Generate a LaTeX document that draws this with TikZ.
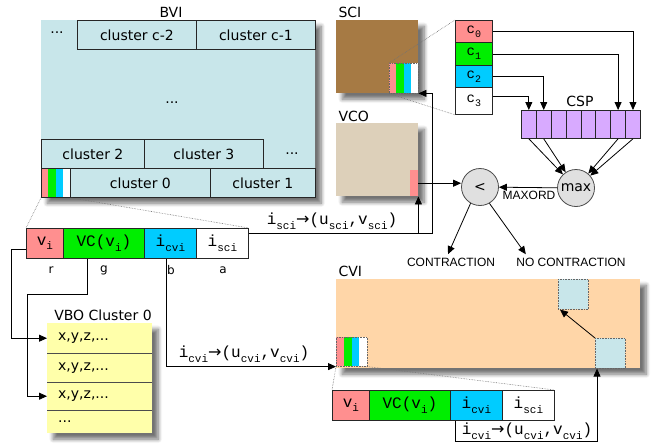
\documentclass[tikz,border=0pt]{standalone}
\usepackage{fontspec}
\setsansfont{DejaVu Sans}
\setmonofont{Liberation Mono}
\newfontfamily\capsfont{Liberation Sans}
\newfontfamily\arrfont{DejaVu Sans}
\usepackage{tikz}
\usetikzlibrary{arrows.meta,positioning,shadows,shadows.blur,calc}
\definecolor{bviblue}{HTML}{C8E6EA}
\definecolor{scibrown}{HTML}{A67A44}
\definecolor{vcotan}{HTML}{DDD0BA}
\definecolor{cvipeach}{HTML}{FFD6A8}
\definecolor{vboyellow}{HTML}{FFFFAA}
\definecolor{cspurple}{HTML}{D8AAFF}
\definecolor{chred}{HTML}{FF8F8F}
\definecolor{chgreen}{HTML}{00EE00}
\definecolor{chblue}{HTML}{00CCFF}
\definecolor{opgray}{HTML}{E0E0E0}
\newcommand{\fsz}[1]{\fontsize{#1}{#1}\selectfont}
% monospaced name with a low subscript
\newcommand{\ttsb}[3][11]{\texttt{#2\raisebox{-0.55ex}{\fsz{#1}#3}}}

\begin{document}
\begin{tikzpicture}[x=1pt, y=-1pt, font=\sffamily\fsz{14}, >={Triangle[length=8pt,width=7pt]},
  panel/.style={inner sep=0pt, anchor=north west, blur shadow={shadow xshift=6pt, shadow yshift=-6pt, shadow blur radius=4pt, shadow blur steps=8, shadow opacity=55}},
  clbox/.style={draw=black!85, line width=0.8pt, fill=bviblue, inner sep=0pt, anchor=north west, minimum height=29pt},
  rcell/.style={draw=black!85, line width=0.8pt, inner sep=0pt, anchor=north west, minimum height=30pt, font=\ttfamily\fsz{16}},
  ccell/.style={draw=black!85, line width=0.8pt, inner sep=0pt, anchor=north west, minimum width=37pt, font=\ttfamily\fsz{14}},
  chip/.style={draw=black!60, densely dotted, line width=0.6pt, inner sep=0pt, anchor=north west},
  cspcell/.style={draw=black!85, line width=0.8pt, fill=cspurple, inner sep=0pt, anchor=north west, minimum width=14.875pt, minimum height=28pt},
  opnode/.style={circle, draw=black!70, line width=0.8pt, fill=opgray, minimum size=37pt, inner sep=0pt},
  vborow/.style={inner xsep=11pt, inner ysep=0pt, anchor=north west, text width=83pt, align=left},
  arr/.style={->, line width=0.8pt},
  zoomline/.style={densely dotted, black!55, line width=0.6pt},
  code/.style={font=\ttfamily\fsz{16}},
  tag/.style={font=\sffamily\fsz{12}},
  caps/.style={font=\capsfont\fsz{12}}]
\useasboundingbox (0,0) rectangle (656,445);
% BVI
\node (bvilbl) at (171,12) {BVI};
\node[panel, fill=bviblue, minimum width=274pt, minimum height=177pt] (bvi) at (41,20) {};
\node (bvidots1) at (57,33) {...};
\node[clbox, minimum width=119pt] (clcm2) at (77,20) {cluster c-2};
\node[clbox, minimum width=119pt] (clcm1) at (196,20) {cluster c-1};
\node (bvidots2) at (172,103) {...};
\node[clbox, minimum width=103pt] (cl2) at (41,139) {cluster 2};
\node[clbox, minimum width=119pt] (cl3) at (144,139) {cluster 3};
\node (bvidots3) at (292,154) {...};
\node[clbox, minimum width=140pt] (cl0) at (70,168) {cluster 0};
\node[clbox, minimum width=105pt] (cl1) at (210,168) {cluster 1};
\foreach \c [count=\k from 0] in {chred,chgreen,chblue,white}
  \fill[\c] (41+\k*7.25,168) rectangle ++(7.25,29);
\node[chip, draw=black!85, solid, line width=0.8pt, minimum width=29pt, minimum height=29pt] (bvichip) at (41,168) {};
% vertex record
\node[rcell, fill=chred, minimum width=37pt] (r1v) at (26,228) {\ttsb{v}{i}};
\node[rcell, fill=chgreen, minimum width=81pt] (r1vc) at (63,228) {VC(\ttsb{v}{i})};
\node[rcell, fill=chblue, minimum width=52pt] (r1cvi) at (144,228) {\ttsb{i}{cvi}};
\node[rcell, fill=white, minimum width=52pt] (r1sci) at (196,228) {\ttsb{i}{sci}};
\foreach \t/\x in {r/51, g/104, b/171, a/223}
  \node[tag] (chan\t) at (\x,270) {\t};
\draw[zoomline] (bvichip.south west) -- (r1v.north west);
\draw[zoomline] (bvichip.south east) -- (r1sci.north east);
% SCI
\node[anchor=west] (scilbl) at (335,12) {SCI};
\node[panel, fill=scibrown, minimum width=82pt, minimum height=73pt] (sci) at (336,20) {};
\foreach \c [count=\k from 0] in {chred,chgreen,chblue,white}
  \fill[\c] (389+\k*7.25,63) rectangle ++(7.25,30);
\node[chip, minimum width=29pt, minimum height=30pt] (scichip) at (389,63) {};
\node[ccell, fill=chred, minimum height=22pt] (c0) at (455,20) {\ttsb[10]{c}{0}};
\node[ccell, fill=chgreen, minimum height=23pt] (c1) at (455,42) {\ttsb[10]{c}{1}};
\node[ccell, fill=chblue, minimum height=22pt] (c2) at (455,65) {\ttsb[10]{c}{2}};
\node[ccell, fill=white, minimum height=27pt] (c3) at (455,87) {\ttsb[10]{c}{3}};
\draw[zoomline] (scichip.north west) -- (c0.north west);
\draw[zoomline] (scichip.south west) -- (c3.south west);
% CSP
\node (csplbl) at (580,101) {CSP};
\foreach \k in {1,...,8}
  \node[cspcell] (csp\k) at ({521+(\k-1)*14.875},110) {};
\draw[arr] (c0.east) -| (csp8.north);
\draw[arr] (c1.east) -| (csp7.north);
\draw[arr] (c2.east) -| (csp2.north);
\draw[arr] ([yshift=5pt]c3.east) -| (csp1.north);
% comparison
\node[opnode] (max) at (576,188) {max};
\node[opnode] (lt) at (480,187) {<};
\foreach \k in {1,2,7,8}
  \draw[arr] (csp\k.south) -- (max);
\draw[arr] (max) -- (lt);
\node[caps] (maxord) at (529,195) {MAXORD};
\node[caps] (contr) at (451,262) {CONTRACTION};
\node[caps] (nocontr) at (571,262) {NO CONTRACTION};
\draw[arr] (lt.240) -- ([xshift=-3pt]contr.north);
\draw[arr] (lt.300) -- ([xshift=13pt]nocontr.north west);
% VCO
\node[anchor=west] (vcolbl) at (335,116) {VCO};
\node[panel, fill=vcotan, minimum width=82pt, minimum height=73pt] (vco) at (336,123) {};
\node[inner sep=0pt, anchor=north west, fill=chred, minimum width=8pt, minimum height=26pt] (vcopink) at (410,170) {};
\draw[arr] (vcopink.east) -- (vcopink.east -| lt.west);
% i_sci lookup
\coordinate (iscirun) at ([yshift=-5pt]r1sci.north east);
\draw[arr] (iscirun) -- ++(184,0) |- (sci.south east);
\draw[arr] (iscirun -| vcopink.south east) -- (vcopink.south east);
\node[code] (iscilbl) at (332,221) {\ttsb{i}{sci}{\arrfont →}(\ttsb{u}{sci},\ttsb{v}{sci})};
% VBO
\node (vbolbl) at (103,315) {VBO Cluster 0};
\node[panel, fill=vboyellow, minimum width=105pt, minimum height=110pt] (vbo) at (47,323) {};
\node[vborow, minimum height=30pt] (vbo1) at (47,323) {x,y,z,...};
\node[vborow, minimum height=29pt] (vbo2) at (47,353) {x,y,z,...};
\node[vborow, minimum height=28pt] (vbo3) at (47,382) {x,y,z,...};
\node[vborow, minimum height=23pt] (vbo4) at (47,410) {...};
\foreach \k in {1,2,3}
  \draw[line width=0.8pt, black!70] (vbo\k.south west) -- (vbo\k.south east);
\draw[arr] ([yshift=-6pt]r1v.west) -- ++(-15,0) |- (vbo1.west);
\draw[arr] ([xshift=-17pt]r1vc.south) -- ++(0,36) -- ++(-60,0) |- (vbo3.west);
% CVI
\node[anchor=west] (cvilbl) at (335,271) {CVI};
\node[panel, fill=cvipeach, minimum width=304pt, minimum height=89pt] (cvi) at (336,279) {};
\node[chip, fill=bviblue, minimum size=30pt] (cviup) at (558,279) {};
\node[chip, fill=bviblue, minimum size=30pt] (cvidown) at (595,338) {};
\draw[arr] (cvidown.north west) -- ([xshift=2pt]cviup.south west);
\foreach \c [count=\k from 0] in {chred,chgreen,chblue,white}
  \fill[\c] (336+\k*7.75,337) rectangle ++(7.75,29);
\node[chip, minimum width=31pt, minimum height=29pt] (cvichip) at (336,337) {};
\draw[arr] ([xshift=-4pt]r1cvi.south) |- (cvichip.south west);
\node[code] (icvilbl) at (244,354) {\ttsb{i}{cvi}{\arrfont →}(\ttsb{u}{cvi},\ttsb{v}{cvi})};
% vertex record in CVI
\node[rcell, fill=chred, minimum width=37pt] (r2v) at (332,390) {\ttsb{v}{i}};
\node[rcell, fill=chgreen, minimum width=81pt] (r2vc) at (369,390) {VC(\ttsb{v}{i})};
\node[rcell, fill=chblue, minimum width=52pt] (r2cvi) at (450,390) {\ttsb{i}{cvi}};
\node[rcell, fill=white, minimum width=52pt] (r2sci) at (502,390) {\ttsb{i}{sci}};
\draw[zoomline] (cvichip.south west) -- (r2v.north west);
\draw[zoomline] (cvichip.south east) -- (r2sci.north east);
\draw[arr] ([xshift=-21pt]r2cvi.south) -- ++(0,21) -| ([xshift=2pt]cvidown.south west);
\node[code] (icvilbl2) at (527,431) {\ttsb{i}{cvi}{\arrfont →}(\ttsb{u}{cvi},\ttsb{v}{cvi})};
\end{tikzpicture}
\end{document}
